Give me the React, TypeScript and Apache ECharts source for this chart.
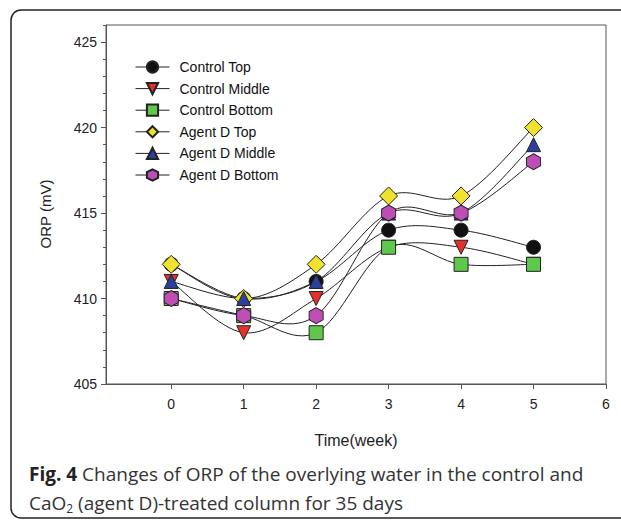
import React, { useEffect, useRef } from "react";
import * as echarts from "echarts";

const weeks = [0, 1, 2, 3, 4, 5];
const xTickValues = [0, 1, 2, 3, 4, 5, 6];
const yTickValues = [405, 410, 415, 420, 425];
const yMinorValues = [406, 407, 408, 409, 411, 412, 413, 414, 416, 417, 418, 419, 421, 422, 423, 424, 426];

const controlTop = [412, 410, 411, 414, 414, 413];
const controlMiddle = [411, 408, 410, 413, 413, 412];
const controlBottom = [410, 409, 408, 413, 412, 412];
const agentTop = [412, 410, 412, 416, 416, 420];
const agentMiddle = [411, 410, 411, 415, 415, 419];
const agentBottom = [410, 409, 409, 415, 415, 418];

const seriesNames = [
  "Control Top",
  "Control Middle",
  "Control Bottom",
  "Agent D Top",
  "Agent D Middle",
  "Agent D Bottom",
];

const HEX = "path://M0,-1 L0.866,-0.5 L0.866,0.5 L0,1 L-0.866,0.5 L-0.866,-0.5 Z";

export default function App() {
  const ref = useRef<HTMLDivElement>(null);
  useEffect(() => {
    if (!ref.current) return;
    const chart = echarts.init(ref.current, null, { renderer: "svg" });
    const font = "Arial";

    const curve = (name: string, vals: number[]) => ({
      name: name + " curve",
      type: "custom",
      data: weeks.map((w, i) => [w, vals[i]]),
      z: 2,
      silent: true,
      renderItem: (params: any, api: any) => {
        const i = params.dataIndexInside;
        const n = vals.length;
        if (i >= n - 1) return { type: "group", children: [] };
        const P = (j: number) => {
          const k = Math.max(0, Math.min(n - 1, j));
          return api.coord([weeks[k], vals[k]]);
        };
        const p0 = P(i - 1);
        const p1 = P(i);
        const p2 = P(i + 1);
        const p3 = P(i + 2);
        const t = 1 / 6;
        return {
          type: "bezierCurve",
          shape: {
            x1: p1[0],
            y1: p1[1],
            x2: p2[0],
            y2: p2[1],
            cpx1: p1[0] + (p2[0] - p0[0]) * t,
            cpy1: p1[1] + (p2[1] - p0[1]) * t,
            cpx2: p2[0] - (p3[0] - p1[0]) * t,
            cpy2: p2[1] - (p3[1] - p1[1]) * t,
          },
          style: { stroke: "#222", lineWidth: 1, fill: "none" },
        };
      },
    });

    const mk = (
      name: string,
      vals: number[],
      color: string,
      symbol: string,
      size: number | number[],
      rotate = 0
    ) => ({
      name,
      type: "line",
      data: weeks.map((w, i) => [w, vals[i]]),
      symbol,
      symbolSize: size,
      symbolRotate: rotate,
      showAllSymbol: true,
      lineStyle: { color: "#222", width: 0, opacity: 0 },
      itemStyle: { color, borderColor: "#222", borderWidth: 1 },
      emphasis: { disabled: true },
      z: 3,
    });

    chart.setOption({
      animation: false,
      backgroundColor: "#fff",
      grid: { left: 106, right: 15, top: 25, bottom: 136, show: true, borderColor: "#555", borderWidth: 1 },
      legend: {
        data: seriesNames,
        orient: "vertical",
        left: 130,
        top: 55,
        itemWidth: 34,
        itemHeight: 14,
        itemGap: 7.6,
        lineStyle: { color: "#222", width: 1, opacity: 1 },
        textStyle: { fontSize: 14, color: "#111", fontFamily: font, padding: [0, 0, 0, 5] },
      },
      xAxis: {
        type: "value",
        min: -0.9,
        max: 6,
        axisLine: { show: true, onZero: false, lineStyle: { color: "#555" } },
        axisTick: { show: true, customValues: xTickValues, length: 5, lineStyle: { color: "#555" } },
        axisLabel: { customValues: xTickValues, fontSize: 14, color: "#222", fontFamily: font, margin: 13 },
        splitLine: { show: false },
      },
      yAxis: [
        {
          type: "value",
          min: 405,
          max: 426,
          axisLine: { show: true, onZero: false, lineStyle: { color: "#555" } },
          axisTick: { show: true, customValues: yTickValues, length: 5, lineStyle: { color: "#555" } },
          axisLabel: { customValues: yTickValues, fontSize: 14, color: "#222", fontFamily: font, margin: 9 },
          splitLine: { show: false },
        },
        {
          type: "value",
          min: 405,
          max: 426,
          position: "left",
          axisLine: { show: false, onZero: false },
          axisTick: { show: true, customValues: yMinorValues, length: 3, lineStyle: { color: "#555" } },
          axisLabel: { show: false },
          splitLine: { show: false },
        },
      ],
      series: [
        curve(seriesNames[0], controlTop),
        curve(seriesNames[1], controlMiddle),
        curve(seriesNames[2], controlBottom),
        curve(seriesNames[3], agentTop),
        curve(seriesNames[4], agentMiddle),
        curve(seriesNames[5], agentBottom),
        mk(seriesNames[0], controlTop, "#111111", "circle", 14),
        mk(seriesNames[1], controlMiddle, "#e2302a", "triangle", 14, 180),
        mk(seriesNames[2], controlBottom, "#5ec74c", "rect", 14),
        mk(seriesNames[3], agentTop, "#f0e22c", "diamond", 18),
        mk(seriesNames[4], agentMiddle, "#2b3f9e", "triangle", 14),
        mk(seriesNames[5], agentBottom, "#bf4db6", HEX, [14, 16]),
      ],
      graphic: [
        {
          type: "rect",
          shape: { x: 11, y: 10, width: 700, height: 508, r: 10 },
          style: { fill: "none", stroke: "#222", lineWidth: 1.5 },
          silent: true,
        },
        {
          type: "text",
          x: 45,
          y: 214,
          rotation: Math.PI / 2,
          style: {
            text: "ORP (mV)",
            textAlign: "center",
            textVerticalAlign: "middle",
            fontSize: 15,
            fontFamily: font,
            fill: "#222",
          },
        },
        {
          type: "text",
          x: 356,
          y: 440,
          style: {
            text: "Time(week)",
            textAlign: "center",
            textVerticalAlign: "middle",
            fontSize: 16,
            fontFamily: font,
            fill: "#222",
          },
        },
        {
          type: "text",
          x: 29,
          y: 474,
          style: {
            text: "{b|Fig. 4} Changes of ORP of the overlying water in the control and",
            textVerticalAlign: "middle",
            fontSize: 19,
            fontFamily: "Open Sans",
            fill: "#333",
            rich: {
              b: { fontWeight: "bold", fontSize: 19, fontFamily: "Open Sans", fill: "#222" },
            },
          },
        },
        {
          type: "text",
          x: 29,
          y: 503,
          style: {
            text: "CaO{s|2} (agent D)-treated column for 35 days",
            textVerticalAlign: "middle",
            fontSize: 19,
            fontFamily: "Open Sans",
            fill: "#333",
            rich: {
              s: { fontSize: 12, fontFamily: "Open Sans", fill: "#333", padding: [10, 0, 0, 0] },
            },
          },
        },
      ],
    });
    return () => chart.dispose();
  }, []);
  return <div ref={ref} style={{ position: "fixed", left: 0, top: 0, width: 621, height: 520 }} />;
}
